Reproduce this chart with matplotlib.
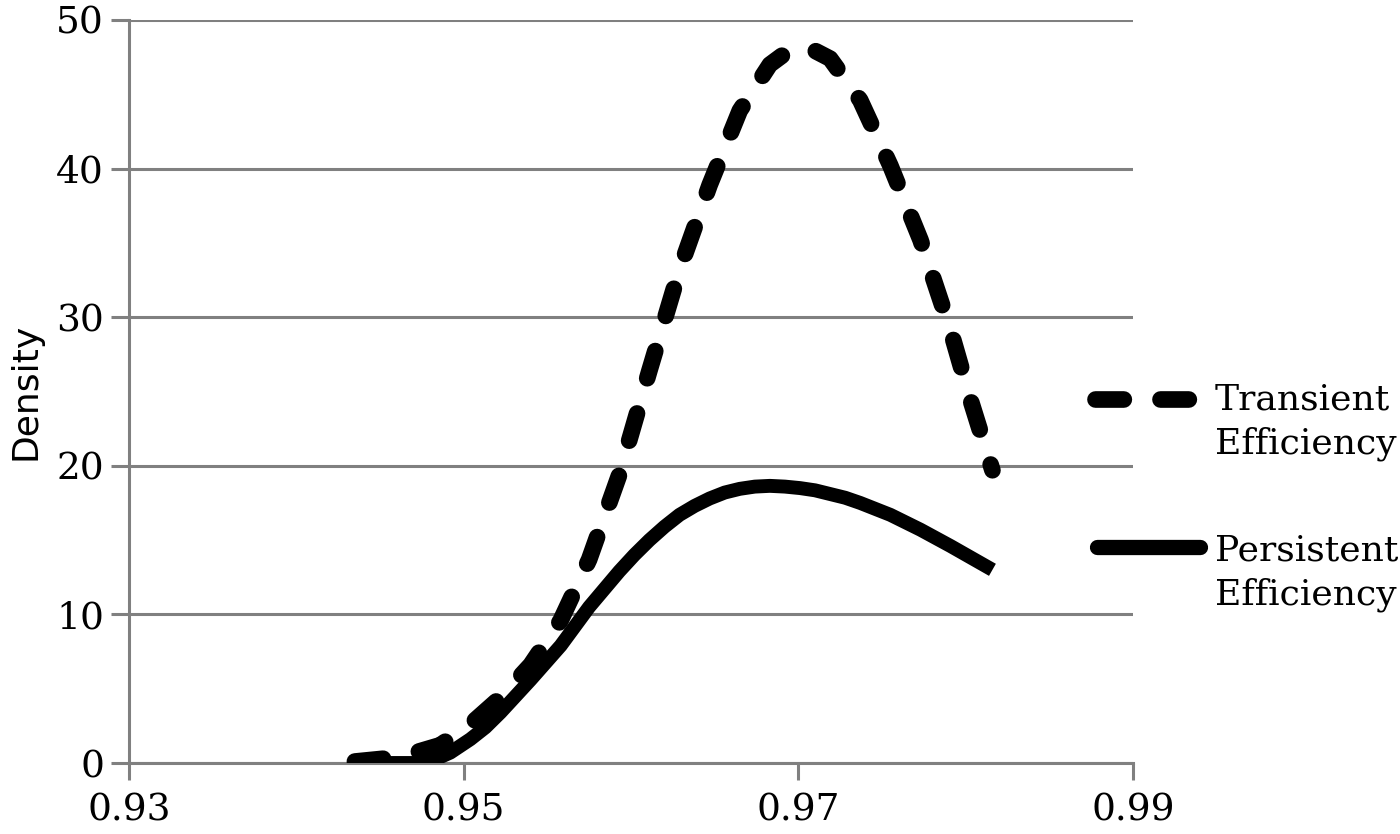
import matplotlib.pyplot as plt
from matplotlib.lines import Line2D

# Density curves
x_transient = [0.9435, 0.9462, 0.9486, 0.9504, 0.9522, 0.9540, 0.9558, 0.9575,
               0.9593, 0.9611, 0.9629, 0.9647, 0.9665, 0.9683, 0.9695, 0.9707,
               0.9719, 0.9737, 0.9755, 0.9773, 0.9791, 0.9803, 0.9816]
y_transient = [0.1, 0.4, 1.2, 2.6, 4.4, 6.6, 9.6, 13.7,
               19.4, 26.4, 33.2, 38.9, 43.9, 47.0, 48.0, 48.1,
               47.4, 44.6, 40.2, 35.2, 29.1, 24.4, 19.7]

x_persistent = [0.9435, 0.9474, 0.9483, 0.9492, 0.9504, 0.9513, 0.9522, 0.9540,
                0.9558, 0.9575, 0.9593, 0.9602, 0.9611, 0.9620, 0.9629, 0.9638,
                0.9647, 0.9656, 0.9665, 0.9674, 0.9683, 0.9692, 0.9701, 0.9710,
                0.9719, 0.9728, 0.9737, 0.9755, 0.9773, 0.9791, 0.9816]
y_persistent = [0.0, 0.0, 0.25, 0.7, 1.6, 2.4, 3.4, 5.6,
                7.9, 10.5, 12.9, 14.0, 15.0, 15.9, 16.7, 17.3,
                17.8, 18.2, 18.45, 18.6, 18.65, 18.6, 18.5, 18.35,
                18.1, 17.85, 17.5, 16.7, 15.7, 14.6, 13.0]

x_ticks = [0.93, 0.95, 0.97, 0.99]
y_ticks = [0, 10, 20, 30, 40, 50]

grey = '#808080'
dash_style = (1.7, 2.2)

fig = plt.figure(figsize=(14, 8.34), dpi=100)
ax = fig.add_axes([129 / 1400, 1 - 763 / 834, (1133 - 129) / 1400, (763 - 20) / 834])

ax.plot(x_persistent, y_persistent, color='black', lw=10, solid_capstyle='butt',
        solid_joinstyle='round', zorder=3)
ax.plot(x_transient, y_transient, color='black', lw=12, dashes=dash_style,
        dash_capstyle='round', dash_joinstyle='round', zorder=4)

ax.set_xlim(0.93, 0.99)
ax.set_ylim(0, 50)
ax.set_xticks(x_ticks)
ax.set_xticklabels([f'{v:.2f}' for v in x_ticks])
ax.set_yticks(y_ticks)

# Grid and spines
ax.yaxis.grid(True, color=grey, lw=2.2)
ax.set_axisbelow(True)
for side in ['top', 'right']:
    ax.spines[side].set_visible(False)
for side in ['left', 'bottom']:
    ax.spines[side].set_color(grey)
    ax.spines[side].set_linewidth(2.2)
ax.tick_params(axis='both', colors=grey, width=2.2, labelcolor='black',
               labelsize=27)
ax.tick_params(axis='y', length=13, pad=5)
ax.tick_params(axis='x', length=12, pad=9)
for lbl in ax.get_xticklabels() + ax.get_yticklabels():
    lbl.set_family('DejaVu Serif')

ax.set_ylabel('Density', fontsize=26, family='DejaVu Sans', labelpad=10)

# Legend drawn at the right side of the plot
fig.add_artist(Line2D([1095 / 1400, 1198 / 1400], [1 - 399 / 834, 1 - 399 / 834],
                      color='black', lw=12, dashes=dash_style,
                      dash_capstyle='round'))
fig.add_artist(Line2D([1097 / 1400, 1200 / 1400], [1 - 547 / 834, 1 - 547 / 834],
                      color='black', lw=11, solid_capstyle='round'))
fig.text(1215 / 1400, 1 - 422 / 834, 'Transient\nEfficiency', family='DejaVu Serif',
         fontsize=26, va='center', ha='left', linespacing=1.38)
fig.text(1215 / 1400, 1 - 573 / 834, 'Persistent\nEfficiency', family='DejaVu Serif',
         fontsize=26, va='center', ha='left', linespacing=1.38)

fig.savefig('out.png', dpi=100)
